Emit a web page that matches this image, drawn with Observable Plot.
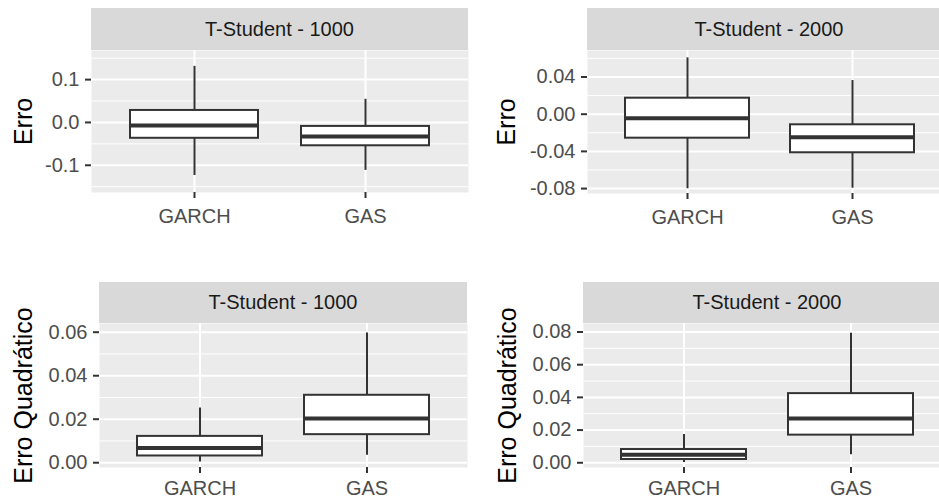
<!DOCTYPE html>
<html>
<head>
<meta charset="utf-8">
<script src="https://cdn.jsdelivr.net/npm/d3@7"></script>
<script src="https://cdn.jsdelivr.net/npm/@observablehq/plot@0.6"></script>
<style>
  html, body { margin: 0; padding: 0; background: #fff; }
  #chart { position: relative; width: 939px; height: 500px; overflow: hidden; background: #fff; }
  .cell { position: absolute; }
  .strip { position: absolute; background: #D9D9D9; color: #1A1A1A; font-family: "Liberation Sans", Arial, sans-serif; font-size: 20px; display: flex; align-items: center; justify-content: center; white-space: nowrap; }
</style>
</head>
<body>
<div id="chart"></div>
<script>
// ---------- data ----------
const models = ["GARCH", "GAS"];
const stripLabels = ["T-Student - 1000", "T-Student - 2000", "T-Student - 1000", "T-Student - 2000"];
const yTitles = ["Erro", "Erro", "Erro Quadrático", "Erro Quadrático"];

// Erro, T-Student - 1000  (GARCH, GAS)
const erro1000Lo  = [-0.124, -0.112];
const erro1000Q1  = [-0.037, -0.0545];
const erro1000Med = [-0.007, -0.0327];
const erro1000Q3  = [0.028, -0.0093];
const erro1000Hi  = [0.131, 0.054];
const erro1000Ticks = [-0.1, 0, 0.1];
const erro1000Minor = [-0.15, -0.05, 0.05, 0.15];
const erro1000Domain = [-0.1636, 0.168];

// Erro, T-Student - 2000
const erro2000Lo  = [-0.0802, -0.0796];
const erro2000Q1  = [-0.0258, -0.0415];
const erro2000Med = [-0.0043, -0.0247];
const erro2000Q3  = [0.0172, -0.0114];
const erro2000Hi  = [0.0606, 0.0362];
const erro2000Ticks = [-0.08, -0.04, 0, 0.04];
const erro2000Minor = [-0.06, -0.02, 0.02, 0.06];
const erro2000Domain = [-0.0853, 0.0685];

// Erro Quadrático, T-Student - 1000
const eq1000Lo  = [0.0003, 0.0034];
const eq1000Q1  = [0.0031, 0.0129];
const eq1000Med = [0.0068, 0.0203];
const eq1000Q3  = [0.0121, 0.031];
const eq1000Hi  = [0.0251, 0.0596];
const eq1000Ticks = [0, 0.02, 0.04, 0.06];
const eq1000Minor = [0.01, 0.03, 0.05];
const eq1000Domain = [-0.0022, 0.064];

// Erro Quadrático, T-Student - 2000
const eq2000Lo  = [0.0002, 0.0049];
const eq2000Q1  = [0.002, 0.0169];
const eq2000Med = [0.0049, 0.0271];
const eq2000Q3  = [0.0081, 0.0423];
const eq2000Hi  = [0.0173, 0.0792];
const eq2000Ticks = [0, 0.02, 0.04, 0.06, 0.08];
const eq2000Minor = [0.01, 0.03, 0.05, 0.07];
const eq2000Domain = [-0.0029, 0.0852];

const tickDigits = [1, 2, 2, 2];

// ---------- layout ----------
const FONT = '"Liberation Sans", Arial, sans-serif';
const layout = [
  {left: 0,   top: 0,   w: 468, h: 250, ml: 91,  mt: 50, mb: 58, xPad: 10, titleDx: -68, strip: {left: 91,  top: 8,   w: 377, h: 42}},
  {left: 470, top: 0,   w: 481, h: 250, ml: 117, mt: 50, mb: 57, xPad: 10, titleDx: -81, strip: {left: 587, top: 8,   w: 364, h: 42}},
  {left: 0,   top: 250, w: 467, h: 260, ml: 99,  mt: 73, mb: 43, xPad: 7,  titleDx: -76, strip: {left: 99,  top: 282, w: 368, h: 41}},
  {left: 470, top: 250, w: 481, h: 260, ml: 113, mt: 73, mb: 43, xPad: 7,  titleDx: -76, strip: {left: 583, top: 282, w: 368, h: 41}}
];

const panelData = [
  {lo: erro1000Lo, q1: erro1000Q1, med: erro1000Med, q3: erro1000Q3, hi: erro1000Hi, ticks: erro1000Ticks, minor: erro1000Minor, domain: erro1000Domain},
  {lo: erro2000Lo, q1: erro2000Q1, med: erro2000Med, q3: erro2000Q3, hi: erro2000Hi, ticks: erro2000Ticks, minor: erro2000Minor, domain: erro2000Domain},
  {lo: eq1000Lo, q1: eq1000Q1, med: eq1000Med, q3: eq1000Q3, hi: eq1000Hi, ticks: eq1000Ticks, minor: eq1000Minor, domain: eq1000Domain},
  {lo: eq2000Lo, q1: eq2000Q1, med: eq2000Med, q3: eq2000Q3, hi: eq2000Hi, ticks: eq2000Ticks, minor: eq2000Minor, domain: eq2000Domain}
];

const chart = document.getElementById("chart");

panelData.forEach((p, k) => {
  const L = layout[k];
  const rows = models.map((m, i) => ({model: m, lo: p.lo[i], q1: p.q1[i], med: p.med[i], q3: p.q3[i], hi: p.hi[i]}));
  const digits = tickDigits[k];
  const svg = Plot.plot({
    width: L.w,
    height: L.h,
    marginLeft: L.ml,
    marginRight: 0,
    marginTop: L.mt,
    marginBottom: L.mb,
    style: {fontFamily: FONT, fontSize: "20px", background: "transparent", overflow: "visible", maxWidth: "none"},
    x: {domain: models, paddingInner: 0.25, paddingOuter: 0.225},
    y: {domain: p.domain},
    marks: [
      Plot.frame({fill: "#EBEBEB", stroke: "none"}),
      Plot.gridY(p.minor, {stroke: "#FFFFFF", strokeOpacity: 1, strokeWidth: 1}),
      Plot.gridY(p.ticks, {stroke: "#FFFFFF", strokeOpacity: 1, strokeWidth: 2}),
      Plot.gridX(models, {stroke: "#FFFFFF", strokeOpacity: 1, strokeWidth: 2}),
      Plot.ruleX(rows, {x: "model", y1: "lo", y2: "hi", stroke: "#333333", strokeWidth: 2}),
      Plot.barY(rows, {x: "model", y1: "q1", y2: "q3", fill: "#FFFFFF", stroke: "#333333", strokeWidth: 2}),
      Plot.tickY(rows, {x: "model", y: "med", stroke: "#333333", strokeWidth: 4}),
      Plot.axisY(p.ticks, {tickSize: 6, tickPadding: 6, tickFormat: d => d.toFixed(digits), fontSize: 20, color: "#4D4D4D", stroke: "#333333", strokeWidth: 2, label: null}),
      Plot.axisX({tickSize: 6, tickPadding: L.xPad, fontSize: 20, color: "#4D4D4D", stroke: "#333333", strokeWidth: 2, label: null}),
      Plot.text([yTitles[k]], {text: d => d, frameAnchor: "left", rotate: -90, dx: L.titleDx, fontSize: 25, fill: "#000000", textAnchor: "middle", lineAnchor: "middle"})
    ]
  });
  const cell = document.createElement("div");
  cell.className = "cell";
  cell.style.left = L.left + "px";
  cell.style.top = L.top + "px";
  cell.style.width = L.w + "px";
  cell.style.height = L.h + "px";
  cell.appendChild(svg);
  chart.appendChild(cell);

  const strip = document.createElement("div");
  strip.className = "strip";
  strip.style.left = L.strip.left + "px";
  strip.style.top = L.strip.top + "px";
  strip.style.width = L.strip.w + "px";
  strip.style.height = L.strip.h + "px";
  strip.textContent = stripLabels[k];
  chart.appendChild(strip);
});
</script>
</body>
</html>
